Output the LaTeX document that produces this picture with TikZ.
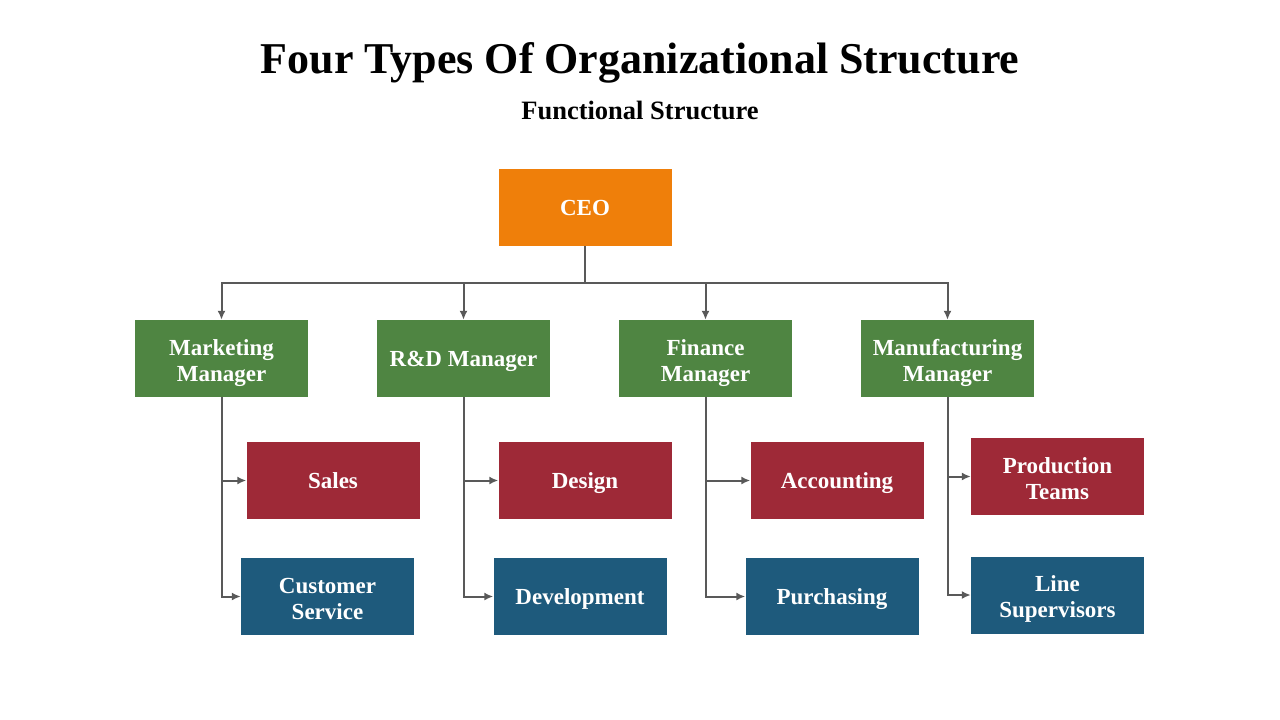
\documentclass[tikz,border=0pt]{standalone}
\usepackage{fontspec}
\setmainfont{Liberation Serif}
\usetikzlibrary{arrows.meta, positioning}
\newcommand\boxstrut{\rule[-5.25pt]{0pt}{26pt}}
\newcommand\pairstrut{\rule[-5.25pt]{0pt}{30pt}}

\begin{document}
\begin{tikzpicture}[x=1pt, y=-1pt,
      box/.style={rectangle, minimum width=173pt, minimum height=77pt, inner sep=0pt, align=center, text=white,
        font=\fontsize{23}{26}\selectfont\bfseries, execute at begin node=\boxstrut, execute at end node=\boxstrut},
      ceobox/.style={box, fill=ceoorange},
      mgr/.style={box, fill=mgrgreen},
      unitred/.style={box, fill=unitred},
      unitblue/.style={box, fill=unitblue},
      arr/.style={-{Latex[length=9pt, width=8pt]}, draw=linegray, line width=2pt},
    ]
      \definecolor{ceoorange}{HTML}{EF7F0A}
      \definecolor{mgrgreen}{HTML}{4F8542}
      \definecolor{unitred}{HTML}{9E2937}
      \definecolor{unitblue}{HTML}{1E5A7C}
      \definecolor{linegray}{HTML}{595959}
      \useasboundingbox (0,0) rectangle (1280,720);
      % titles
      \node[font=\fontsize{44}{50}\selectfont\bfseries] (title) at (640,63) {Four Types Of Organizational Structure};
      \node[font=\fontsize{26.5}{30}\selectfont\bfseries] (subtitle) at (640,110) {Functional Structure};
      % boxes
      \node[ceobox] (ceo) at (585,207.5) {CEO};
      \node[mgr] (m1) at (221.5,358.5) {\pairstrut Marketing\\Manager};
      \node[mgr] (m2) at (463.5,358.5) {R\&D Manager};
      \node[mgr] (m3) at (705.5,358.5) {\pairstrut Finance\\Manager};
      \node[mgr] (m4) at (947.5,358.5) {\pairstrut Manufacturing\\Manager};
      \node[unitred] (r1) at (333,480.5) {Sales};
      \node[unitred] (r2) at (585,480.5) {Design};
      \node[unitred] (r3) at (837,480.5) {Accounting};
      \node[unitred] (r4) at (1057.5,476.5) {\pairstrut Production\\Teams};
      \node[unitblue] (b1) at (327.5,596.5) {\pairstrut Customer\\Service};
      \node[unitblue] (b2) at (580,596.5) {Development};
      \node[unitblue] (b3) at (832,596.5) {Purchasing};
      \node[unitblue] (b4) at (1057.5,595) {\pairstrut Line\\Supervisors};
      % connectors
      \coordinate (bus) at (585,283);
      \draw[arr] (ceo.south)--(bus)-|(m1.north); \draw[arr] (bus)-|(m2.north);
      \draw[arr] (bus)-|(m3.north); \draw[arr] (bus)-|(m4.north);
      \draw[arr] (m1.south)|-(r1.west); \draw[arr] (m1.south)|-(b1.west);
      \draw[arr] (m2.south)|-(r2.west); \draw[arr] (m2.south)|-(b2.west);
      \draw[arr] (m3.south)|-(r3.west); \draw[arr] (m3.south)|-(b3.west);
      \draw[arr] (m4.south)|-(r4.west); \draw[arr] (m4.south)|-(b4.west);
    \end{tikzpicture}
\end{document}
